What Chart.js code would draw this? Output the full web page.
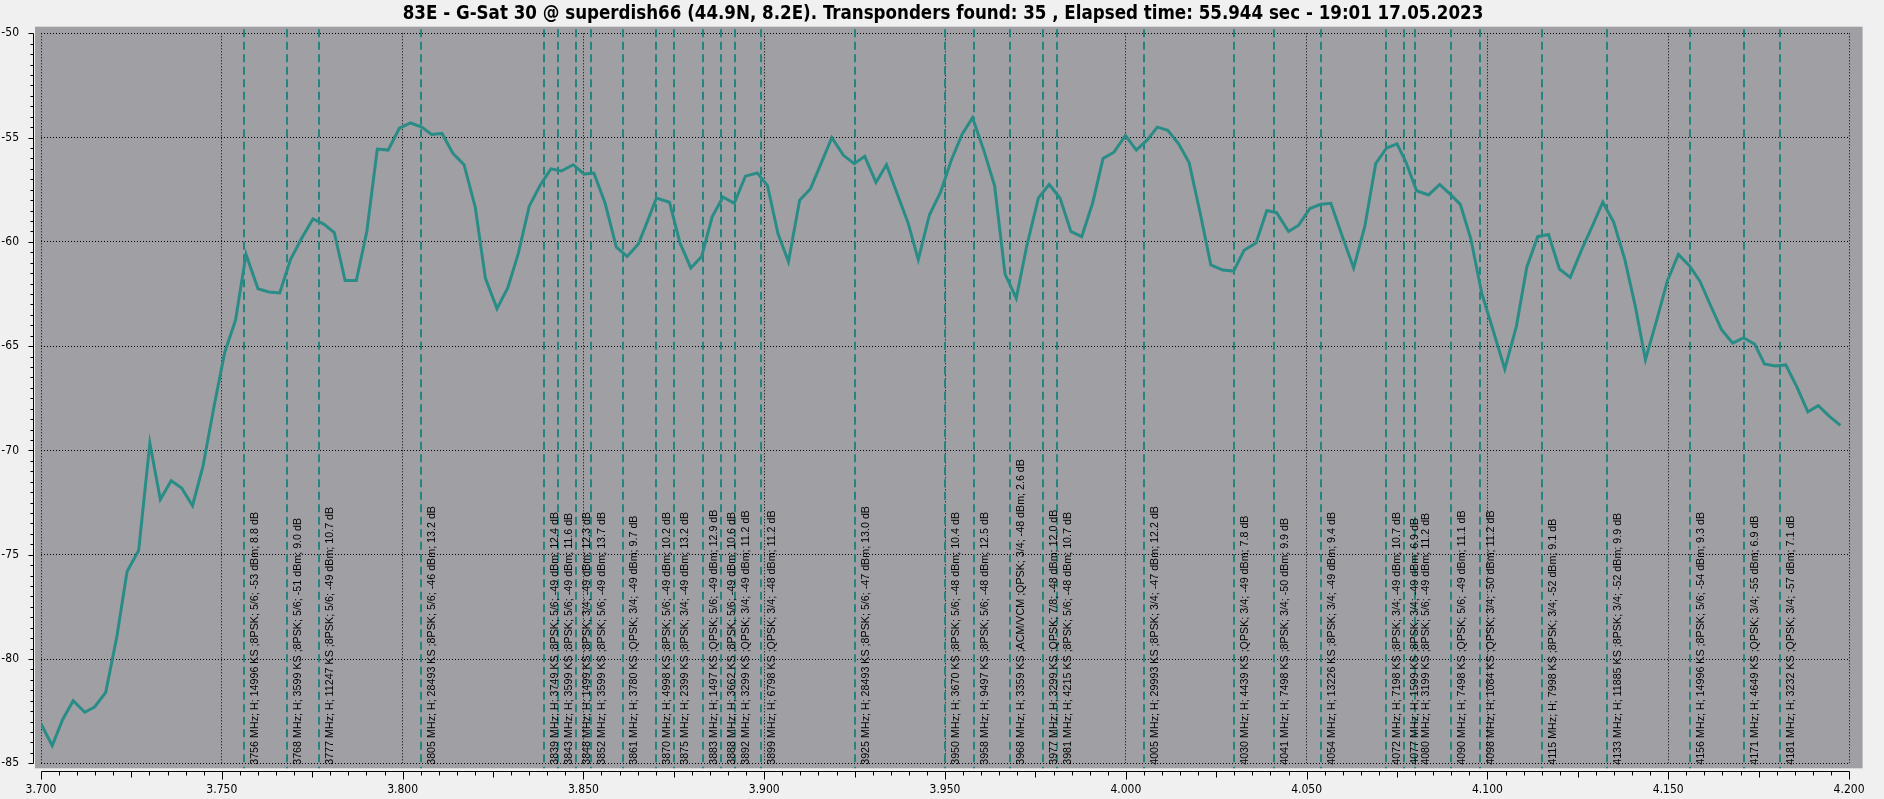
<!DOCTYPE html>
<html>
<head>
<meta charset="utf-8">
<script src="https://cdn.jsdelivr.net/npm/chart.js@4"></script>
<style>
  html, body { margin: 0; padding: 0; background: #f0f0f0; }
  canvas { display: block; }
</style>
</head>
<body>
<canvas id="scan" width="1884" height="799"></canvas>
<script>
const titleText = '83E - G-Sat 30 @ superdish66 (44.9N, 8.2E). Transponders found: 35 , Elapsed time: 55.944 sec - 19:01 17.05.2023';

// spectrum trace: frequency (GHz) and level (dBm)
const freqGHz = [
  3.7000, 3.7031, 3.7060, 3.7089, 3.7121, 3.7148, 3.7179, 3.7210, 3.7238, 3.7270,
  3.7301, 3.7330, 3.7360, 3.7389, 3.7419, 3.7448, 3.7479, 3.7508, 3.7538, 3.7567,
  3.7600, 3.7630, 3.7660, 3.7690, 3.7720, 3.7752, 3.7782, 3.7811, 3.7841, 3.7872,
  3.7901, 3.7930, 3.7960, 3.7991, 3.8022, 3.8053, 3.8080, 3.8109, 3.8139, 3.8170,
  3.8201, 3.8229, 3.8261, 3.8291, 3.8320, 3.8350, 3.8380, 3.8410, 3.8439, 3.8472,
  3.8502, 3.8529, 3.8560, 3.8591, 3.8621, 3.8652, 3.8675, 3.8702, 3.8738, 3.8767,
  3.8797, 3.8827, 3.8856, 3.8886, 3.8917, 3.8948, 3.8981, 3.9009, 3.9038, 3.9067,
  3.9098, 3.9128, 3.9157, 3.9187, 3.9219, 3.9249, 3.9278, 3.9309, 3.9338, 3.9368,
  3.9398, 3.9426, 3.9457, 3.9488, 3.9517, 3.9547, 3.9576, 3.9607, 3.9637, 3.9666,
  3.9697, 3.9726, 3.9758, 3.9788, 3.9818, 3.9848, 3.9878, 3.9908, 3.9937, 3.9967,
  3.9999, 4.0029, 4.0060, 4.0087, 4.0116, 4.0146, 4.0175, 4.0206, 4.0235, 4.0268,
  4.0298, 4.0327, 4.0360, 4.0390, 4.0417, 4.0450, 4.0478, 4.0509, 4.0539, 4.0567,
  4.0599, 4.0630, 4.0661, 4.0691, 4.0721, 4.0750, 4.0774, 4.0804, 4.0837, 4.0868,
  4.0896, 4.0925, 4.0954, 4.0984, 4.1015, 4.1048, 4.1080, 4.1109, 4.1139, 4.1169,
  4.1199, 4.1229, 4.1260, 4.1290, 4.1319, 4.1349, 4.1380, 4.1409, 4.1437, 4.1468,
  4.1498, 4.1528, 4.1559, 4.1588, 4.1617, 4.1647, 4.1678, 4.1708, 4.1739, 4.1766,
  4.1796, 4.1825, 4.1857, 4.1886, 4.1915, 4.1945, 4.1976
];
const levelDbm = [
  -83.1, -84.15, -82.9, -82.0, -82.55, -82.3, -81.6, -78.9, -75.8, -74.8,
  -69.65, -72.35, -71.45, -71.8, -72.65, -70.75, -67.85, -65.3, -63.75, -60.6,
  -62.25, -62.4, -62.45, -60.85, -59.85, -58.9, -59.15, -59.55, -61.85, -61.85,
  -59.5, -55.55, -55.6, -54.55, -54.3, -54.5, -54.85, -54.8, -55.75, -56.3,
  -58.35, -61.75, -63.2, -62.2, -60.55, -58.3, -57.3, -56.5, -56.6, -56.3,
  -56.75, -56.7, -58.15, -60.25, -60.7, -60.1, -59.1, -57.9, -58.1, -60.05,
  -61.25, -60.7, -58.8, -57.85, -58.15, -56.85, -56.7, -57.3, -59.6, -60.95,
  -58.0, -57.45, -56.25, -55.0, -55.85, -56.25, -55.9, -57.15, -56.3, -57.7,
  -59.1, -60.85, -58.7, -57.6, -56.1, -54.85, -54.05, -55.6, -57.3, -61.55,
  -62.7, -60.2, -57.9, -57.25, -57.9, -59.5, -59.75, -58.15, -56.0, -55.7,
  -54.9, -55.6, -55.1, -54.5, -54.65, -55.3, -56.2, -58.65, -61.1, -61.35,
  -61.4, -60.4, -60.05, -58.5, -58.6, -59.5, -59.2, -58.4, -58.2, -58.15,
  -59.75, -61.25, -59.25, -56.25, -55.5, -55.3, -56.15, -57.55, -57.75, -57.25,
  -57.7, -58.2, -59.85, -62.45, -64.2, -66.1, -64.05, -61.2, -59.75, -59.65,
  -61.3, -61.7, -60.4, -59.25, -58.1, -59.05, -60.85, -63.1, -65.65, -63.75,
  -61.85, -60.6, -61.15, -61.9, -63.05, -64.2, -64.85, -64.6, -64.9, -65.85,
  -65.95, -65.9, -67.0, -68.15, -67.85, -68.35, -68.8
];

// transponders found
const tpFreq = [3756, 3768, 3777, 3805, 3839, 3843, 3848, 3852, 3861, 3870, 3875, 3883, 3888, 3892, 3899, 3925, 3950, 3958, 3968, 3977, 3981, 4005, 4030, 4041, 4054, 4072, 4077, 4080, 4090, 4098, 4115, 4133, 4156, 4171, 4181];
const tpSymRate = [14996, 3599, 11247, 28493, 3749, 3599, 1499, 3599, 3780, 4998, 2399, 1497, 3662, 3299, 6798, 28493, 3670, 9497, 3359, 3299, 4215, 29993, 4439, 7498, 13226, 7198, 1599, 3199, 7498, 1084, 7998, 11885, 14996, 4649, 3232];
const tpMod = ['8PSK', '8PSK', '8PSK', '8PSK', '8PSK', '8PSK', '8PSK', '8PSK', 'QPSK', '8PSK', '8PSK', 'QPSK', '8PSK', 'QPSK', 'QPSK', '8PSK', '8PSK', '8PSK', 'ACM/VCM ;QPSK', 'QPSK', '8PSK', '8PSK', 'QPSK', '8PSK', '8PSK', '8PSK', '8PSK', '8PSK', 'QPSK', 'QPSK', '8PSK', '8PSK', '8PSK', 'QPSK', 'QPSK'];
const tpFec = ['5/6', '5/6', '5/6', '5/6', '5/6', '5/6', '3/4', '5/6', '3/4', '5/6', '3/4', '5/6', '5/6', '3/4', '3/4', '5/6', '5/6', '5/6', '3/4', '7/8', '5/6', '3/4', '3/4', '3/4', '3/4', '3/4', '3/4', '5/6', '5/6', '3/4', '3/4', '3/4', '5/6', '3/4', '3/4'];
const tpPower = [-53, -51, -49, -46, -49, -49, -49, -49, -49, -49, -49, -49, -49, -49, -48, -47, -48, -48, -48, -48, -48, -47, -49, -50, -49, -49, -49, -49, -49, -50, -52, -52, -54, -55, -57];
const tpSnr = [8.8, 9.0, 10.7, 13.2, 12.4, 11.6, 12.3, 13.7, 9.7, 10.2, 13.2, 12.9, 10.6, 11.2, 11.2, 13.0, 10.4, 12.5, 2.6, 12.0, 10.7, 12.2, 7.8, 9.9, 9.4, 10.7, 6.9, 11.2, 11.1, 11.2, 9.1, 9.9, 9.3, 6.9, 7.1];

const FONT = '"DejaVu Sans Condensed", "Liberation Sans", Arial, sans-serif';
const LABEL_FONT = '"Liberation Sans", Arial, sans-serif';
const TEAL = '#2a8c86';
const DASH_TEAL = '#25857e';

const tpLabels = tpFreq.map((f, i) =>
  f + ' MHz; H; ' + tpSymRate[i] + ' KS ;' + tpMod[i] + '; ' + tpFec[i] + '; ' +
  tpPower[i] + ' dBm; ' + tpSnr[i].toFixed(1) + ' dB');

// pick a font size so that the text comes out at the given width
function fitFont(ctx, text, weight, base, width, family) {
  ctx.font = weight + ' ' + base + 'px ' + family;
  const w = ctx.measureText(text).width;
  return weight + ' ' + (base * width / w).toFixed(2) + 'px ' + family;
}

// grey plot panel, a little larger than the data area
const backdrop = {
  id: 'backdrop',
  beforeDraw(chart) {
    const { ctx, chartArea: a } = chart;
    ctx.save();
    ctx.fillStyle = '#f0f0f0';
    ctx.fillRect(0, 0, chart.width, chart.height);
    ctx.fillStyle = '#a0a0a4';
    ctx.fillRect(a.left - 6, a.top - 6.6, a.width + 19.5, a.height + 11.6);
    ctx.restore();
  }
};

// dashed transponder markers with their rotated captions
const transponders = {
  id: 'transponders',
  beforeDatasetsDraw(chart) {
    const { ctx, chartArea: a } = chart;
    const xs = chart.scales.x;
    ctx.save();
    ctx.strokeStyle = DASH_TEAL;
    ctx.lineWidth = 2;
    ctx.setLineDash([8, 4.5]);
    tpFreq.forEach(f => {
      const x = Math.round(xs.getPixelForValue(f / 1000));
      ctx.beginPath();
      ctx.moveTo(x, a.top - 4);
      ctx.lineTo(x, a.bottom + 5);
      ctx.stroke();
    });
    ctx.setLineDash([]);
    ctx.fillStyle = '#000';
    ctx.font = fitFont(ctx, tpLabels[0], 'normal', 11, 253, LABEL_FONT);
    ctx.textAlign = 'left';
    ctx.textBaseline = 'alphabetic';
    tpLabels.forEach((t, i) => {
      const x = Math.round(xs.getPixelForValue(tpFreq[i] / 1000));
      ctx.save();
      ctx.translate(x + 14, a.bottom + 1.5);
      ctx.rotate(-Math.PI / 2);
      ctx.fillText(t, 0, 0);
      ctx.restore();
    });
    ctx.restore();
  }
};

// detached axis lines with major / minor tick marks, and the title
const axesAndTitle = {
  id: 'axesAndTitle',
  afterDraw(chart) {
    const { ctx, chartArea: a } = chart;
    const xs = chart.scales.x, ys = chart.scales.y;
    ctx.save();
    ctx.strokeStyle = '#000';
    ctx.lineWidth = 1;
    ctx.beginPath();
    const ax = Math.round(a.left - 8) + 0.5;
    ctx.moveTo(ax, Math.round(a.top) + 0.5);
    ctx.lineTo(ax, Math.round(a.bottom) + 0.5);
    for (let i = 0; i <= 70; i++) {
      const y = Math.round(ys.getPixelForValue(-85 + i * 0.5)) + 0.5;
      const len = i % 10 === 0 ? 5 : 3;
      ctx.moveTo(ax - len, y);
      ctx.lineTo(ax, y);
    }
    const ay = Math.round(a.bottom + 8) + 0.5;
    ctx.moveTo(Math.round(a.left) + 0.5, ay);
    ctx.lineTo(Math.round(a.right) + 0.5, ay);
    for (let i = 0; i <= 100; i++) {
      const x = Math.round(xs.getPixelForValue(3.7 + i * 0.005)) + 0.5;
      const len = i % 10 === 0 ? 8 : (i % 5 === 0 ? 6 : 4);
      ctx.moveTo(x, ay);
      ctx.lineTo(x, ay + len);
    }
    ctx.stroke();

    ctx.fillStyle = '#000';
    ctx.font = fitFont(ctx, titleText, 'bold', 16, 1081, FONT);
    ctx.textAlign = 'center';
    ctx.textBaseline = 'middle';
    ctx.fillText(titleText, 943, 14);
    ctx.restore();
  }
};

new Chart(document.getElementById('scan'), {
  type: 'line',
  data: {
    datasets: [{
      label: 'Spectrum',
      data: freqGHz.map((f, i) => ({ x: f, y: levelDbm[i] })),
      borderColor: TEAL,
      borderWidth: 3,
      pointRadius: 0,
      tension: 0,
      fill: false
    }]
  },
  options: {
    responsive: false,
    animation: false,
    devicePixelRatio: 1,
    layout: { padding: { top: 33.3, right: 16.5, left: 0, bottom: 0 } },
    plugins: {
      legend: { display: false },
      tooltip: { enabled: false },
      title: { display: false }
    },
    scales: {
      x: {
        type: 'linear',
        min: 3.7,
        max: 4.2,
        afterFit: s => { s.height = 35.7; },
        border: { display: false, dash: [1, 2] },
        grid: { color: '#000', lineWidth: 1, drawTicks: false, borderDash: [1, 2] },
        ticks: {
          stepSize: 0.05,
          padding: 19.5,
          color: '#000',
          maxRotation: 0,
          autoSkip: false,
          font: { family: FONT, size: 12 },
          callback: v => Number(v).toFixed(3)
        }
      },
      y: {
        min: -85,
        max: -50,
        afterFit: s => { s.width = 41; },
        border: { display: false, dash: [1, 2] },
        grid: { color: '#000', lineWidth: 1, drawTicks: false, borderDash: [1, 2] },
        ticks: {
          stepSize: 5,
          padding: 22,
          color: '#000',
          font: { family: FONT, size: 12 }
        }
      }
    }
  },
  plugins: [backdrop, transponders, axesAndTitle]
});
</script>
</body>
</html>
